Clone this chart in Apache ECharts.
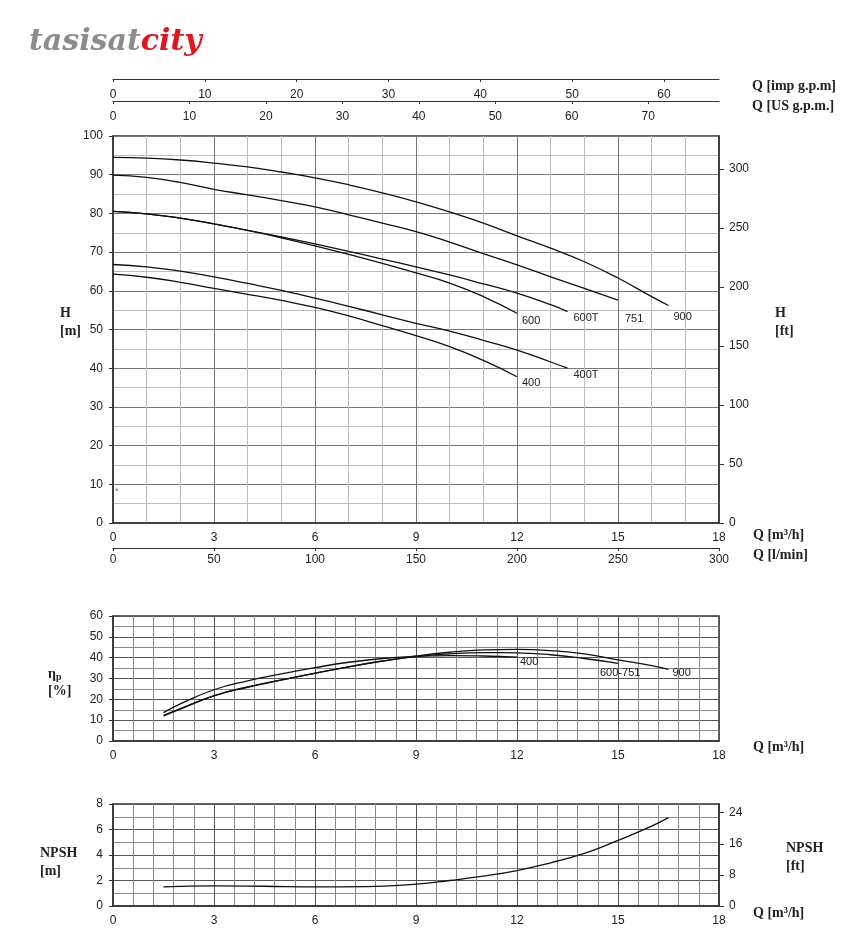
<!DOCTYPE html>
<html>
  <head>
    <meta charset="UTF-8" />
    <title>Pump curves</title>
    <script type="text/javascript" src="https://cdn.jsdelivr.net/npm/echarts@6/dist/echarts.min.js"></script>
    <style>
      html, body { margin: 0; padding: 0; background: #fff; }
      #chart { width: 867px; height: 948px; }
    </style>
  </head>
  <body>
    <div id="chart"></div>
    <script type="text/javascript">
      // H [m] vs Q [m3/h], one list per model
      var head400 = [[0, 64.3], [1, 63.5], [2, 62.2], [3, 60.6], [4, 59.1], [5, 57.5], [6, 55.7], [7, 53.5], [8, 51.0], [9, 48.4], [10, 45.6], [11, 42.0], [12, 37.8]];
      var head400T = [[0, 66.8], [1, 66.2], [2, 65.1], [3, 63.6], [4, 61.9], [5, 60.1], [6, 58.1], [7, 56.0], [8, 53.8], [9, 51.6], [10, 49.6], [11, 47.2], [12, 44.7], [13, 41.6], [13.5, 40.0]];
      var head600 = [[0, 80.5], [1, 79.9], [2, 78.8], [3, 77.3], [4, 75.6], [5, 73.7], [6, 71.6], [7, 69.4], [8, 67.1], [9, 64.6], [10, 62.0], [11, 58.5], [12, 54.2]];
      var head600T = [[0, 80.5], [1, 79.9], [2, 78.8], [3, 77.3], [4, 75.6], [5, 73.9], [6, 72.1], [7, 70.2], [8, 68.2], [9, 66.2], [10, 64.1], [11, 61.8], [12, 59.4], [13, 56.4], [13.5, 54.6]];
      var head751 = [[0, 89.9], [1, 89.3], [2, 88.0], [3, 86.2], [4, 84.8], [5, 83.3], [6, 81.7], [7, 79.6], [8, 77.5], [9, 75.3], [10, 72.6], [11, 69.6], [12, 66.7], [13, 63.6], [14, 60.6], [15, 57.6]];
      var head900 = [[0, 94.5], [1, 94.3], [2, 93.8], [3, 93.0], [4, 92.0], [5, 90.7], [6, 89.2], [7, 87.4], [8, 85.3], [9, 83.0], [10, 80.4], [11, 77.5], [12, 74.2], [13, 71.0], [14, 67.5], [15, 63.3], [16, 58.5], [16.5, 56.2]];

      // efficiency [%] vs Q [m3/h]
      var eff400 = [[1.5, 13.6], [2, 17.8], [3, 24.6], [4, 28.9], [5, 32.2], [6, 35.2], [7, 37.8], [8, 39.6], [9, 40.6], [10, 41.0], [11, 40.8], [12, 40.3]];
      var eff600_751 = [[1.5, 12.3], [2, 15.5], [3, 21.8], [4, 26.0], [5, 29.3], [6, 32.6], [7, 35.6], [8, 38.3], [9, 40.5], [10, 41.8], [11, 42.4], [12, 42.3], [13, 41.4], [14, 39.6], [15, 37.3]];
      var eff900 = [[1.5, 12.0], [2, 15.3], [3, 21.6], [4, 25.8], [5, 29.2], [6, 32.5], [7, 35.6], [8, 38.4], [9, 40.8], [10, 42.6], [11, 43.7], [12, 44.0], [13, 43.4], [14, 41.8], [15, 38.9], [16, 36.2], [16.5, 34.4]];

      // NPSH [m] vs Q [m3/h]
      var npsh = [[1.5, 1.5], [3, 1.58], [4.5, 1.55], [6, 1.5], [7.5, 1.52], [9, 1.72], [10, 2.0], [11, 2.34], [12, 2.78], [13, 3.39], [14, 4.12], [15, 5.14], [16, 6.27], [16.5, 6.93]];

      var qMax = 18;
      var qImpMax = qMax * 1000 / 60 / 4.54609;
      var qUsMax = qMax * 1000 / 60 / 3.78541;
      var qLminMax = qMax * 1000 / 60;
      var hFtMax = 100 * 3.28084;
      var npshFtMax = 8 * 3.28084;

      var myChart = echarts.init(document.getElementById("chart"));

      var font = "Liberation Sans, Arial, sans-serif";
      var serif = "Liberation Serif, DejaVu Serif, serif";
      var lblStyle = { color: "#222", fontSize: 12, fontFamily: font };
      var frame = { show: true, onZero: false, lineStyle: { color: "#333", width: 1.5 } };
      var thinLine = { show: true, onZero: false, lineStyle: { color: "#333", width: 1.2 } };
      var minorGrid = { show: true, lineStyle: { color: "#bdbdbd", width: 1 } };
      var majorGrid = { show: true, lineStyle: { color: "#777", width: 1 } };
      var denseMinor = { show: true, lineStyle: { color: "#8a8a8a", width: 1 } };
      var denseMajor = { show: true, lineStyle: { color: "#555", width: 1 } };

      function intLabel(v) {
        return Math.abs(v - Math.round(v)) < 1e-6 ? String(Math.round(v)) : "";
      }

      function curve(name, data, xi, yi, offset) {
        return {
          name: name,
          type: "line",
          xAxisIndex: xi,
          yAxisIndex: yi,
          data: data,
          smooth: true,
          symbol: "none",
          silent: true,
          lineStyle: { color: "#111", width: 1.3 },
          endLabel: {
            show: offset !== null,
            formatter: name,
            distance: 0,
            offset: offset || [0, 0],
            color: "#222",
            fontSize: 11,
            fontFamily: font,
          },
        };
      }

      var option = {
        animation: false,
        backgroundColor: "#fff",
        textStyle: { fontFamily: font },
        grid: [
          { left: 113, top: 136, width: 606, height: 387, show: true, borderColor: "#333", borderWidth: 1.5 },
          { left: 113, top: 616, width: 606, height: 125, show: true, borderColor: "#333", borderWidth: 1.5 },
          { left: 113, top: 804, width: 606, height: 102, show: true, borderColor: "#333", borderWidth: 1.5 },
        ],
        xAxis: [
          {
            gridIndex: 0, type: "value", min: 0, max: qMax, interval: 3, position: "bottom",
            axisLine: frame, axisTick: { show: false },
            axisLabel: Object.assign({ margin: 9 }, lblStyle),
            splitLine: majorGrid,
            minorTick: { show: false, splitNumber: 3 },
            minorSplitLine: minorGrid,
          },
          {
            gridIndex: 0, type: "value", min: 0, max: qLminMax, interval: 50, position: "bottom", offset: 25,
            axisLine: thinLine,
            axisTick: { show: true, length: 3, lineStyle: { color: "#333" } },
            axisLabel: Object.assign({ margin: 6 }, lblStyle),
            splitLine: { show: false },
          },
          {
            gridIndex: 0, type: "value", min: 0, max: qImpMax, interval: 10, position: "top", offset: 57,
            axisLine: thinLine,
            axisTick: { show: true, inside: true, length: 3, lineStyle: { color: "#333" } },
            axisLabel: Object.assign({ inside: true, margin: 10, formatter: intLabel, showMaxLabel: false }, lblStyle),
            splitLine: { show: false },
          },
          {
            gridIndex: 0, type: "value", min: 0, max: qUsMax, interval: 10, position: "top", offset: 35,
            axisLine: thinLine,
            axisTick: { show: true, inside: true, length: 3, lineStyle: { color: "#333" } },
            axisLabel: Object.assign({ inside: true, margin: 10, formatter: intLabel, showMaxLabel: false }, lblStyle),
            splitLine: { show: false },
          },
          {
            gridIndex: 1, type: "value", min: 0, max: qMax, interval: 3,
            axisLine: frame, axisTick: { show: false },
            axisLabel: Object.assign({ margin: 9 }, lblStyle),
            splitLine: denseMajor,
            minorTick: { show: false, splitNumber: 5 },
            minorSplitLine: denseMinor,
          },
          {
            gridIndex: 2, type: "value", min: 0, max: qMax, interval: 3,
            axisLine: frame, axisTick: { show: false },
            axisLabel: Object.assign({ margin: 9 }, lblStyle),
            splitLine: denseMajor,
            minorTick: { show: false, splitNumber: 5 },
            minorSplitLine: denseMinor,
          },
        ],
        yAxis: [
          {
            gridIndex: 0, type: "value", min: 0, max: 100, interval: 10, position: "left",
            axisLine: frame, axisTick: { show: true, length: 4, lineStyle: { color: "#333" } },
            axisLabel: Object.assign({ margin: 10 }, lblStyle),
            splitLine: majorGrid,
            minorTick: { show: false, splitNumber: 2 },
            minorSplitLine: minorGrid,
          },
          {
            gridIndex: 0, type: "value", min: 0, max: hFtMax, interval: 50, position: "right",
            axisLine: frame, axisTick: { show: true, length: 5, lineStyle: { color: "#333" } },
            axisLabel: Object.assign({ margin: 10, showMaxLabel: false, formatter: intLabel }, lblStyle),
            splitLine: { show: false },
          },
          {
            gridIndex: 1, type: "value", min: 0, max: 60, interval: 10, position: "left",
            axisLine: frame, axisTick: { show: true, length: 4, lineStyle: { color: "#333" } },
            axisLabel: Object.assign({ margin: 10 }, lblStyle),
            splitLine: denseMajor,
            minorTick: { show: false, splitNumber: 2 },
            minorSplitLine: denseMinor,
          },
          {
            gridIndex: 2, type: "value", min: 0, max: 8, interval: 2, position: "left",
            axisLine: frame, axisTick: { show: true, length: 4, lineStyle: { color: "#333" } },
            axisLabel: Object.assign({ margin: 10 }, lblStyle),
            splitLine: denseMajor,
            minorTick: { show: false, splitNumber: 2 },
            minorSplitLine: denseMinor,
          },
          {
            gridIndex: 2, type: "value", min: 0, max: npshFtMax, interval: 8, position: "right",
            axisLine: frame, axisTick: { show: true, length: 5, lineStyle: { color: "#333" } },
            axisLabel: Object.assign({ margin: 10, showMaxLabel: false, formatter: intLabel }, lblStyle),
            splitLine: { show: false },
          },
        ],
        series: [
          curve("400", head400, 0, 0, [5, 6]),
          curve("400T", head400T, 0, 0, [6, 7]),
          curve("600", head600, 0, 0, [5, 8]),
          curve("600T", head600T, 0, 0, [6, 6]),
          curve("751", head751, 0, 0, [7, 19]),
          curve("900", head900, 0, 0, [5, 11]),
          curve("400", eff400, 4, 2, [3, 5]),
          curve("600-751", eff600_751, 4, 2, [-18, 10]),
          curve("900", eff900, 4, 2, [4, 4]),
          curve("NPSH", npsh, 5, 3, null),
        ],
        graphic: [
          {
            type: "text", left: 29, top: 27,
            style: {
              text: "{a|tasisat}{b|city}",
              rich: {
                a: { fontSize: 30, fontWeight: "bold", fontStyle: "italic", fontFamily: "DejaVu Serif, serif", fill: "#8c8c8c" },
                b: { fontSize: 30, fontWeight: "bold", fontStyle: "italic", fontFamily: "DejaVu Serif, serif", fill: "#e2141c" },
              },
            },
          },
          { type: "text", left: 752, top: 79, style: { text: "Q [imp g.p.m]", font: "bold 14px " + serif, fill: "#222" } },
          { type: "text", left: 752, top: 99, style: { text: "Q [US g.p.m.]", font: "bold 14px " + serif, fill: "#222" } },
          { type: "text", left: 753, top: 528, style: { text: "Q [m³/h]", font: "bold 14px " + serif, fill: "#222" } },
          { type: "text", left: 753, top: 548, style: { text: "Q [l/min]", font: "bold 14px " + serif, fill: "#222" } },
          { type: "text", left: 753, top: 740, style: { text: "Q [m³/h]", font: "bold 14px " + serif, fill: "#222" } },
          { type: "text", left: 753, top: 906, style: { text: "Q [m³/h]", font: "bold 14px " + serif, fill: "#222" } },
          { type: "text", left: 60, top: 304, style: { text: "H\n[m]", font: "bold 14px " + serif, fill: "#222", align: "center", lineHeight: 18 } },
          { type: "text", left: 775, top: 304, style: { text: "H\n[ft]", font: "bold 14px " + serif, fill: "#222", align: "center", lineHeight: 18 } },
          {
            type: "text", left: 48, top: 667,
            style: {
              text: "{e|η}{p|p}\n{e|[%]}",
              align: "center",
              rich: {
                e: { font: "bold 14px " + serif, fill: "#222", lineHeight: 17 },
                p: { font: "bold 10px " + serif, fill: "#222", verticalAlign: "bottom", padding: [4, 0, 0, 0] },
              },
            },
          },
          { type: "text", left: 40, top: 844, style: { text: "NPSH\n[m]", font: "bold 14px " + serif, fill: "#222", align: "center", lineHeight: 18 } },
          { type: "text", left: 786, top: 839, style: { text: "NPSH\n[ft]", font: "bold 14px " + serif, fill: "#222", align: "center", lineHeight: 18 } },
          { type: "text", left: 115, top: 487, style: { text: "*", font: "9px " + font, fill: "#777" } },
        ],
      };

      myChart.setOption(option);
    </script>
  </body>
</html>
